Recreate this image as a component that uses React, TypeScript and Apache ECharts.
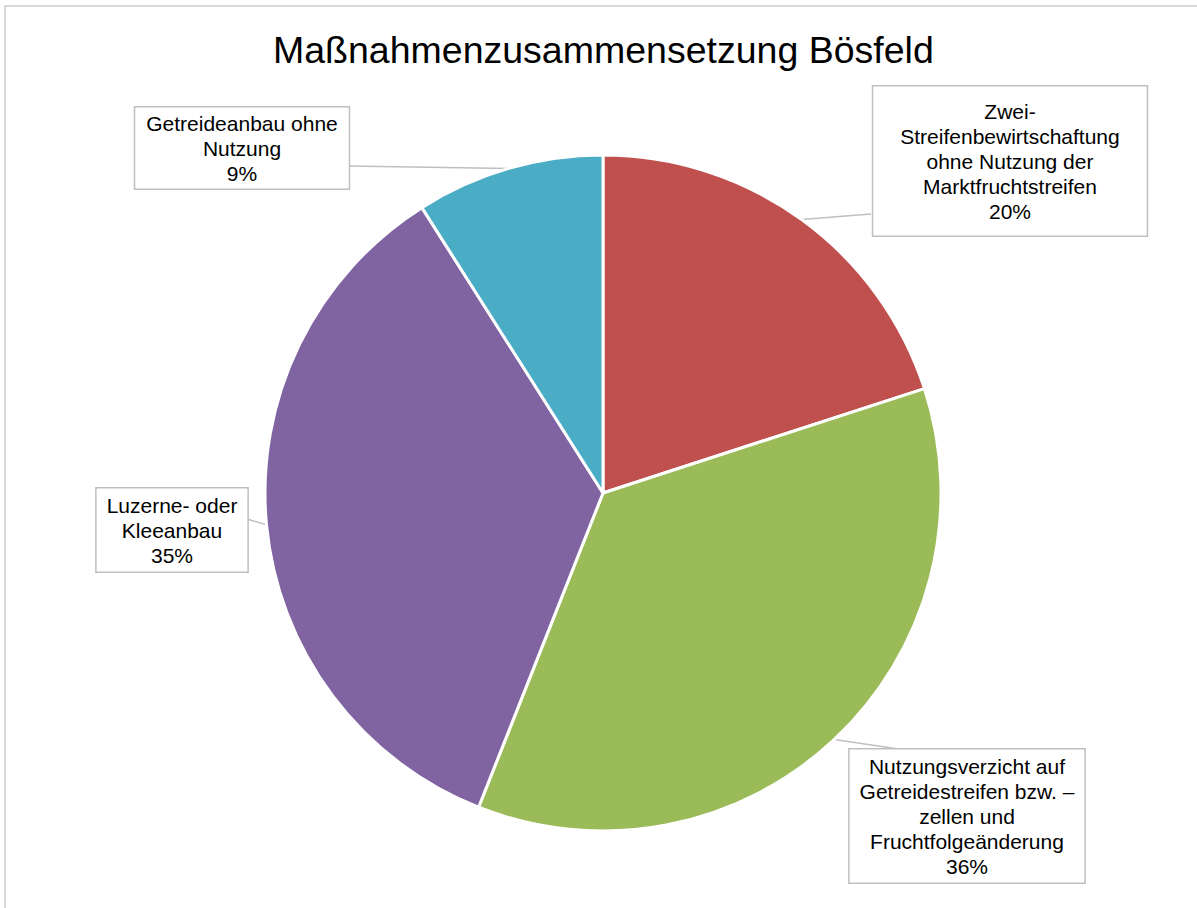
import React, { useEffect, useRef } from "react";
import * as echarts from "echarts";

const titleText = "Maßnahmenzusammensetzung Bösfeld";
const categories = [
  "Zwei-\nStreifenbewirtschaftung\nohne Nutzung der\nMarktfruchtstreifen",
  "Nutzungsverzicht auf\nGetreidestreifen bzw. –\nzellen und\nFruchtfolgeänderung",
  "Luzerne- oder\nKleeanbau",
  "Getreideanbau ohne\nNutzung",
];
const values = [20, 36, 35, 9];
const colors = ["#C0504D", "#9BBB59", "#8064A2", "#4BACC6"];

// label box layout (center x, center y, padding, line end on box edge)
const labelBoxes = [
  { cx: 1010, cy: 161, pad: [12, 27], end: [871, 214] },
  { cx: 967, cy: 816, pad: [4, 10], end: [905, 750] },
  { cx: 172, cy: 530, pad: [4, 10], end: [247, 519] },
  { cx: 242, cy: 148, pad: [3, 11], end: [349, 166] },
];

export default function App() {
  const ref = useRef<HTMLDivElement>(null);
  useEffect(() => {
    if (!ref.current) return;
    const chart = echarts.init(ref.current, null, { renderer: "svg" });
    const font = "'Liberation Sans', Arial, Helvetica, sans-serif";
    chart.setOption({
      animation: false,
      backgroundColor: "#ffffff",
      title: {
        text: titleText,
        left: 268,
        top: 26,
        textStyle: {
          fontFamily: font,
          fontSize: 37.5,
          fontWeight: "normal",
          color: "#000000",
        },
      },
      graphic: [
        {
          type: "rect",
          shape: { x: 5, y: 6, width: 1300, height: 1000 },
          style: { fill: "none", stroke: "#d9d9d9", lineWidth: 2 },
          silent: true,
        },
      ],
      series: [
        {
          type: "pie",
          center: [603, 493],
          radius: ["0%", 338],
          startAngle: 90,
          clockwise: true,
          itemStyle: { borderColor: "#ffffff", borderWidth: 3 },
          label: {
            show: true,
            position: "outside",
            fontFamily: font,
            fontSize: 21,
            lineHeight: 25,
            color: "#000000",
            align: "center",
            backgroundColor: "#ffffff",
            borderColor: "#bfbfbf",
            borderWidth: 1.5,
            formatter: (p: any) => `${p.name}\n${Math.round(p.percent)}%`,
          },
          labelLine: {
            show: true,
            lineStyle: { color: "#bfbfbf", width: 1.5 },
          },
          labelLayout: (params: any) => {
            const b = labelBoxes[params.dataIndex];
            const start = params.labelLinePoints
              ? params.labelLinePoints[0]
              : b.end;
            return {
              x: b.cx,
              y: b.cy,
              align: "center",
              verticalAlign: "middle",
              labelLinePoints: [
                start,
                [(start[0] + b.end[0]) / 2, (start[1] + b.end[1]) / 2],
                b.end,
              ],
            };
          },
          data: categories.map((name, i) => ({
            name,
            value: values[i],
            itemStyle: { color: colors[i] },
            label: { padding: labelBoxes[i].pad },
          })),
        },
      ],
    });
    return () => chart.dispose();
  }, []);
  return (
    <div
      ref={ref}
      style={{ position: "absolute", left: 0, top: 0, width: 1197, height: 908 }}
    />
  );
}
